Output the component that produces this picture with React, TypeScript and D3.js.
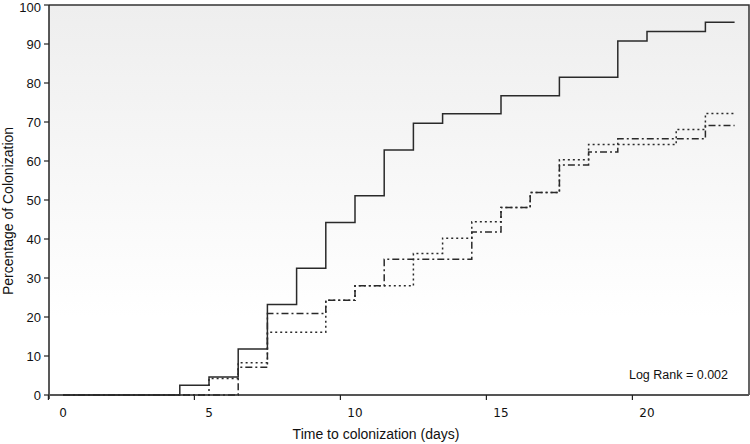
import React from "react";
import * as d3 from "d3";

const xTicks = [0, 5, 10, 15, 20];
const yTicks = [0, 10, 20, 30, 40, 50, 60, 70, 80, 90, 100];
const endDay = 23;

const solidDays = [0, 4, 5, 6, 7, 8, 9, 10, 11, 12, 13, 15, 17, 19, 20, 22];
const solidVals = [0, 2.5, 4.6, 11.8, 23.2, 32.5, 44.2, 51.1, 62.8, 69.7, 72.1, 76.7, 81.5, 90.8, 93.2, 95.6];

const dottedDays = [0, 5, 6, 7, 9, 10, 12, 13, 14, 15, 16, 17, 18, 21, 22];
const dottedVals = [0, 4.2, 8.3, 16.1, 24.3, 28.0, 36.3, 40.2, 44.4, 48.1, 51.9, 60.3, 64.2, 68.1, 72.2];

const dashDotDays = [0, 6, 7, 9, 10, 11, 14, 15, 16, 17, 18, 19, 22];
const dashDotVals = [0, 7.1, 20.9, 24.3, 28.0, 34.8, 41.8, 48.1, 51.9, 59.0, 62.3, 65.7, 69.1];

const W = 750;
const H = 444;
const plotLeft = 49;
const plotRight = 749;
const plotTop = 5;
const plotBottom = 395;

export default function App() {
  const x = d3.scaleLinear().domain([0, 20]).range([63, 647]);
  const y = d3.scaleLinear().domain([0, 100]).range([plotBottom, plotTop]);

  const mk = (days: number[], vals: number[]) => {
    const pts: [number, number][] = days.map((d, i) => [d, vals[i]]);
    pts.push([endDay, vals[vals.length - 1]]);
    return d3
      .line<[number, number]>()
      .x((d) => x(d[0]))
      .y((d) => y(d[1]))
      .curve(d3.curveStepAfter)(pts) as string;
  };

  const font = "'Liberation Sans', Arial, sans-serif";

  return (
    <svg
      width={W}
      height={H}
      style={{ position: "absolute", left: 0, top: 0, background: "#fff" }}
    >
      <defs>
        <linearGradient id="bg" x1="0" y1="0" x2="0" y2="1">
          <stop offset="0%" stopColor="#eeeeee" />
          <stop offset="80%" stopColor="#ffffff" />
          <stop offset="100%" stopColor="#ffffff" />
        </linearGradient>
      </defs>
      <rect
        x={plotLeft}
        y={plotTop}
        width={plotRight - plotLeft}
        height={plotBottom - plotTop}
        fill="url(#bg)"
      />
      {/* frame */}
      <path
        d={`M${plotLeft},${plotTop}H${plotRight}V${plotBottom}`}
        fill="none"
        stroke="#333"
        strokeWidth={1.5}
      />
      {/* y axis */}
      <line x1={plotLeft} x2={plotLeft} y1={plotTop} y2={plotBottom + 4} stroke="#222" strokeWidth={1.5} />
      {yTicks.map((t) => (
        <g key={"y" + t}>
          <line x1={plotLeft - 5} x2={plotLeft} y1={y(t)} y2={y(t)} stroke="#222" strokeWidth={1.2} />
          <text
            x={41}
            y={Math.max(y(t), 7)}
            dy="0.35em"
            textAnchor="end"
            fontFamily={font}
            fontSize={13}
            fill="#111"
          >
            {t}
          </text>
        </g>
      ))}
      {/* x axis */}
      <line x1={plotLeft} x2={plotRight} y1={plotBottom} y2={plotBottom} stroke="#555" strokeWidth={1.8} />
      {xTicks.map((t) => (
        <g key={"x" + t}>
          <line
            x1={x(t - 0.5)}
            x2={x(t - 0.5)}
            y1={plotBottom}
            y2={plotBottom + 5}
            stroke="#222"
            strokeWidth={1.2}
          />
          <text
            x={x(t)}
            y={417}
            textAnchor="middle"
            fontFamily="'DejaVu Sans', Verdana, sans-serif"
            fontSize={12}
            fill="#111"
          >
            {t}
          </text>
        </g>
      ))}
      {/* series */}
      <path d={mk(solidDays, solidVals)} fill="none" stroke="#2a2a2a" strokeWidth={1.5} />
      <path
        d={mk(dottedDays, dottedVals)}
        fill="none"
        stroke="#2a2a2a"
        strokeWidth={1.5}
        strokeDasharray="2,3"
      />
      <path
        d={mk(dashDotDays, dashDotVals)}
        fill="none"
        stroke="#2a2a2a"
        strokeWidth={1.5}
        strokeDasharray="7,3,2,3"
      />
      {/* annotation */}
      <text x={728} y={379} textAnchor="end" fontFamily={font} fontSize={12.5} fill="#111">
        Log Rank = 0.002
      </text>
      {/* axis titles */}
      <text x={376} y={439} textAnchor="middle" fontFamily={font} fontSize={14} fill="#111">
        Time to colonization (days)
      </text>
      <text
        transform={`translate(13,211) rotate(-90)`}
        textAnchor="middle"
        fontFamily={font}
        fontSize={14}
        fill="#111"
      >
        Percentage of Colonization
      </text>
    </svg>
  );
}
